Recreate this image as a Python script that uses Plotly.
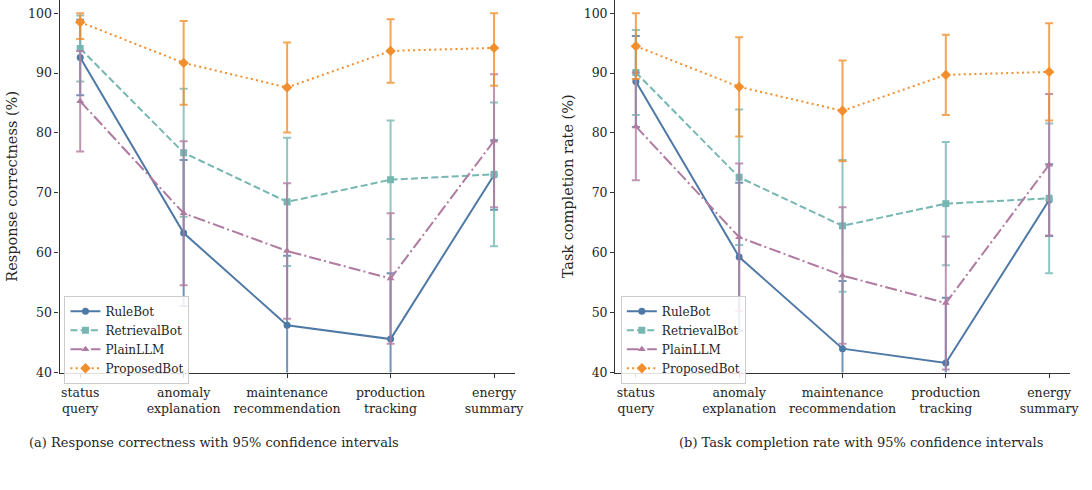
import plotly.graph_objects as go
from plotly.subplots import make_subplots

# Task categories on the x axis
categories = ["status<br>query", "anomaly<br>explanation", "maintenance<br>recommendation",
              "production<br>tracking", "energy<br>summary"]
bots = ["RuleBot", "RetrievalBot", "PlainLLM", "ProposedBot"]

# Response correctness (%) and 95% CI half-widths
rule_corr = [92.6, 63.3, 47.9, 45.6, 73.0]
rule_corr_ci = [6.3, 12.2, 11.6, 11.0, 5.8]
retr_corr = [94.1, 76.7, 68.5, 72.2, 73.1]
retr_corr_ci = [5.5, 10.7, 10.7, 9.9, 12.0]
plain_corr = [85.3, 66.6, 60.3, 55.7, 78.7]
plain_corr_ci = [8.4, 12.0, 11.3, 10.9, 11.1]
prop_corr = [98.5, 91.7, 87.6, 93.7, 94.2]
prop_corr_ci = [2.8, 7.0, 7.5, 5.3, 6.3]

# Task completion rate (%) and 95% CI half-widths
rule_comp = [88.6, 59.3, 44.0, 41.6, 68.8]
rule_comp_ci = [7.6, 12.4, 11.3, 10.9, 6.0]
retr_comp = [90.1, 72.6, 64.5, 68.2, 69.1]
retr_comp_ci = [7.1, 11.3, 11.0, 10.3, 12.5]
plain_comp = [81.1, 62.6, 56.2, 51.6, 74.7]
plain_comp_ci = [9.0, 12.3, 11.4, 11.1, 11.8]
prop_comp = [94.5, 87.7, 83.7, 89.7, 90.2]
prop_comp_ci = [5.5, 8.3, 8.4, 6.7, 8.1]

colors = ["#4E79A7", "#76B7B2", "#B07AA1", "#F28E2B"]
err_colors = ["rgba(78,121,167,0.8)", "rgba(118,183,178,0.8)",
              "rgba(176,122,161,0.8)", "rgba(242,142,43,0.8)"]
symbols = ["circle", "square", "triangle-up", "diamond"]
dashes = ["solid", "7px,3.2px", "12px,3.2px,2px,3.2px", "2px,3.3px"]

FONT = "DejaVu Serif"
TXT = "#262626"

fig = make_subplots(rows=1, cols=2)

panels = [
    ([rule_corr, retr_corr, plain_corr, prop_corr],
     [rule_corr_ci, retr_corr_ci, plain_corr_ci, prop_corr_ci], 1, "legend"),
    ([rule_comp, retr_comp, plain_comp, prop_comp],
     [rule_comp_ci, retr_comp_ci, plain_comp_ci, prop_comp_ci], 2, "legend2"),
]

xs = list(range(len(categories)))
for series, cis, col, leg in panels:
    for i, name in enumerate(bots):
        vals, ci = series[i], cis[i]
        upper = [min(v + c, 100.0) - v for v, c in zip(vals, ci)]
        fig.add_trace(go.Scatter(
            x=xs, y=vals, name=name, mode="lines+markers", legend=leg,
            line=dict(color=colors[i], width=2, dash=dashes[i]),
            marker=dict(symbol=symbols[i], size=7 if i != 3 else 8, color=colors[i],
                        line=dict(width=0)),
            error_y=dict(type="data", symmetric=False, array=upper, arrayminus=ci,
                         color=err_colors[i], thickness=2, width=4),
        ), row=1, col=col)

axis_common = dict(
    showline=True, linecolor="#333333", linewidth=1.2, ticks="outside",
    ticklen=4, tickcolor="#333333", tickwidth=1.2, showgrid=False, zeroline=False,
    tickfont=dict(family=FONT, size=12.5, color=TXT), mirror=False,
)

for col, dom in [(1, [60 / 1092, 519 / 1092]), (2, [620.3 / 1092, 1078.7 / 1092])]:
    fig.update_xaxes(axis_common, domain=dom, range=[-0.2, 4.2], ticklabelstandoff=4,
                     tickvals=xs, ticktext=categories, row=1, col=col)
    fig.update_yaxes(axis_common, domain=[112 / 490, 1.0], range=[40, 102.2],
                     tickvals=[40, 50, 60, 70, 80, 90, 100], row=1, col=col)

fig.update_yaxes(title=dict(text="Response correctness (%)", standoff=6,
                            font=dict(family=FONT, size=14.5, color=TXT)), row=1, col=1)
fig.update_yaxes(title=dict(text="Task completion rate (%)", standoff=6,
                            font=dict(family=FONT, size=14.5, color=TXT)), row=1, col=2)

legend_style = dict(
    xanchor="left", yanchor="top", bgcolor="rgba(255,255,255,0.85)",
    bordercolor="#cccccc", borderwidth=1, tracegroupgap=0,
    font=dict(family=FONT, size=12, color=TXT), itemwidth=30,
)

fig.update_layout(
    width=1092, height=490,
    margin=dict(l=0, r=0, t=0, b=0),
    paper_bgcolor="white", plot_bgcolor="white",
    font=dict(family=FONT, color=TXT),
    legend=dict(legend_style, x=65 / 1092, y=(490 - 300) / 490),
    legend2=dict(legend_style, x=626 / 1092, y=(490 - 300) / 490),
    annotations=[
        dict(text="(a) Response correctness with 95% confidence intervals",
             x=27 / 1092, y=(490 - 449) / 490, xref="paper", yref="paper",
             xanchor="left", yanchor="middle", showarrow=False,
             font=dict(family=FONT, size=13, color=TXT)),
        dict(text="(b) Task completion rate with 95% confidence intervals",
             x=683 / 1092, y=(490 - 449) / 490, xref="paper", yref="paper",
             xanchor="left", yanchor="middle", showarrow=False,
             font=dict(family=FONT, size=13, color=TXT)),
    ],
)

fig.write_html("out.html")
